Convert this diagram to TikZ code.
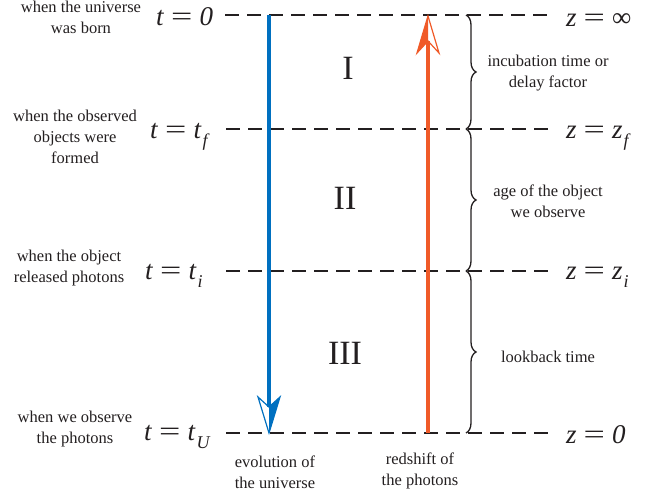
\documentclass[tikz,border=0pt]{standalone}
\usepackage{fontspec}
\usepackage{graphicx}
\setmainfont{Liberation Serif}
\usetikzlibrary{decorations.pathreplacing}
\definecolor{ink}{RGB}{35,31,32}
\definecolor{bluearr}{RGB}{0,112,192}
\definecolor{orangearr}{RGB}{240,90,40}
\newcommand{\subx}[1]{\hspace{1pt}\raisebox{-8pt}{\fontsize{18}{18}\selectfont\itshape #1}}
\newcommand{\eqs}{\hspace{7pt}\scalebox{1.4}[1.0]{=}\hspace{7pt}}
\begin{document}
\begin{tikzpicture}[x=1pt,y=-1pt,
  every node/.style={inner sep=0pt, text=ink},
  lvl/.style={draw=ink, line width=2.9pt, dash pattern=on 14pt off 8pt},
  desc/.style={font=\fontsize{16.5}{21}\selectfont, align=center},
  eqn/.style={font=\fontsize{27}{27}\selectfont, anchor=base west},
  roman/.style={font=\fontsize{34}{34}\selectfont},
  brc/.style={draw=ink, line width=1.3pt, decorate, decoration={brace, amplitude=10pt}}
]
\useasboundingbox (0,0) rectangle (665,497);
% level lines
\coordinate (a1) at (225,15);  \coordinate (b1) at (553,15);
\coordinate (a2) at (226,129); \coordinate (b2) at (553,129);
\coordinate (a3) at (226,271); \coordinate (b3) at (553,271);
\coordinate (a4) at (226,433); \coordinate (b4) at (553,433);
\draw[lvl] (a1) -- (b1);
\draw[lvl] (a2) -- (b2);
\draw[lvl] (a3) -- (b3);
\draw[lvl] (a4) -- (b4);
% left equations
\node[eqn] (t0) at (156,26) {\textit{t}\eqs\textit{0}};
\node[eqn] (tf) at (150,139) {\textit{t}\eqs\textit{t}\subx{f}};
\node[eqn] (ti) at (145,280) {\textit{t}\eqs\textit{t}\subx{i}};
\node[eqn] (tu) at (144,441) {\textit{t}\eqs\textit{t}\subx{U}};
% right equations
\node[eqn] (z0) at (566,27) {\textit{z}\eqs∞};
\node[eqn] (zf) at (566,139) {\textit{z}\eqs\textit{z}\subx{f}};
\node[eqn] (zi) at (566,280) {\textit{z}\eqs\textit{z}\subx{i}};
\node[eqn] (zu) at (566,443) {\textit{z}\eqs\textit{0}};
% left descriptions
\node[desc] (d1) at (81,17) {when the universe\\was born};
\node[desc] (d2) at (75,137) {when the observed\\objects were\\formed};
\node[desc] (d3) at (69,268) {when the object\\released photons};
\node[desc] (d4) at (75,429) {when we observe\\the photons};
% roman numerals
\node[roman] (r1) at (348,68) {I};
\node[roman] (r2) at (345,198) {II};
\node[roman] (r3) at (345,353) {III};
% braces
\draw[brc] (466,15) -- (466,129);
\draw[brc] (466,129) -- (466,271);
\draw[brc] (466,271) -- (466,433);
\node[desc] (e1) at (548,73) {incubation time or\\delay factor};
\node[desc] (e2) at (548,201) {age of the object\\we observe};
\node[desc] (e3) at (548,357) {lookback time};
% blue arrow (down)
\coordinate (bs) at (269,15);
\coordinate (bn) at (269,407);
\coordinate (bt) at (269,433);
\coordinate (bl) at (258,397);
\coordinate (br) at (280,397);
\draw[bluearr, line width=3.8pt] (bs) -- (bn);
\fill[bluearr] (bt) -- (bn) -- (br) -- cycle;
\draw[bluearr, line width=1.2pt, line join=miter] (bt) -- (bl) -- (bn) -- (br) -- cycle;
% orange arrow (up)
\coordinate (os) at (428,433);
\coordinate (on) at (428,41);
\coordinate (ot) at (428,16);
\coordinate (ol) at (417,53);
\coordinate (or) at (439,53);
\draw[orangearr, line width=3.8pt] (os) -- (on);
\fill[orangearr] (ot) -- (on) -- (ol) -- cycle;
\draw[orangearr, line width=1.2pt, line join=miter] (ot) -- (ol) -- (on) -- (or) -- cycle;
% bottom labels
\node[desc] (f1) at (275,472) {evolution of\\the universe};
\node[desc] (f2) at (420,471) {redshift of\\the photons};
\end{tikzpicture}
\end{document}
